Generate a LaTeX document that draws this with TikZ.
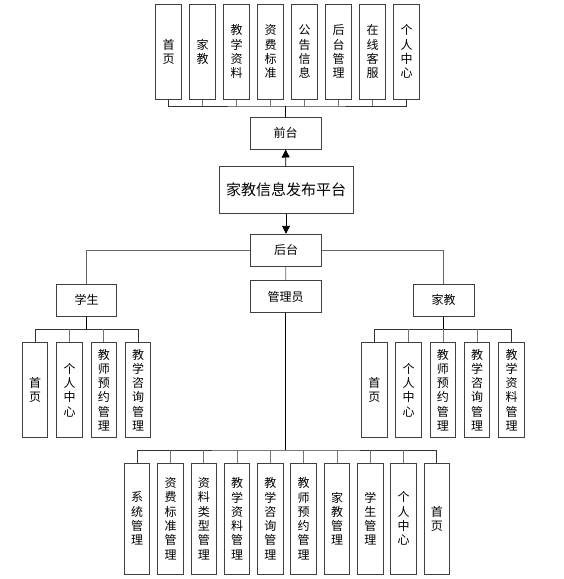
\documentclass[tikz,border=0pt]{standalone}
\usepackage{fontspec}
\setmainfont{Noto Sans CJK SC}
\usetikzlibrary{arrows.meta, positioning}
\tikzset{
    >={Triangle[width=8pt,length=8pt]},
    % Boxes
    box/.style={rectangle, draw=black!75, line width=1pt, fill=white,
                align=center, inner sep=1pt, font=\fontsize{12}{14.3}\selectfont},
    mid/.style={box, minimum width=71pt, minimum height=32pt},
    leaf/.style={box, minimum width=25.5pt, minimum height=95pt},
    tallleaf/.style={leaf, minimum height=110.7pt},
    % Lines
    bus/.style={draw=black!80, line width=1pt},
    drop/.style={draw=black!55, line width=0.7pt},
    stem/.style={draw=black, line width=1.8pt},
    link/.style={draw=black!60, line width=0.8pt},
    arr/.style={draw=black, line width=0.9pt, ->}
}

\begin{document}
\begin{tikzpicture}[x=1pt, y=-1pt]
\useasboundingbox (0,0) rectangle (563,579);

% Centre
\node[box, minimum width=134pt, minimum height=46.5pt, font=\fontsize{15}{18}\selectfont] (plat) at (286,190) {家教信息发布平台};
\node[mid] (qt) at (285.5,133) {前台};
\node[mid] (ht) at (286,250.3) {后台};
\node[mid] (gly) at (285.5,296.7) {管理员};
\node[mid, minimum width=60pt] (xs) at (86.7,300) {学生};
\node[mid, minimum width=61pt] (jj) at (443.7,300) {家教};

\draw[arr] (plat) -- (qt);
\draw[arr] (plat) -- (ht);
\draw[link] (ht) -- (gly);
\draw[link] (ht.west) -| (xs.north);
\draw[link] (ht.east) -| (jj.north);

% Front end
\begin{scope}[node distance=7.5pt]
\node[leaf] (t1) at (168.5,51.7) {首\\页};
\node[leaf, right=of t1] (t2) {家\\教};
\node[leaf, right=of t2] (t3) {教\\学\\资\\料};
\node[leaf, right=of t3] (t4) {资\\费\\标\\准};
\node[leaf, right=of t4] (t5) {公\\告\\信\\息};
\node[leaf, right=of t5] (t6) {后\\台\\管\\理};
\node[leaf, right=of t6] (t7) {在\\线\\客\\服};
\node[leaf, right=of t7] (t8) {个\\人\\中\\心};
\end{scope}
\coordinate (tb) at (286,106);
\draw[bus] (t1.south) |- (tb) -| (t8.south);
\draw[drop] (t2.south) -- (t2.south |- tb) (t3.south) -- (t3.south |- tb)
    (t4.south) -- (t4.south |- tb) (t5.south) -- (t5.south |- tb)
    (t6.south) -- (t6.south |- tb) (t7.south) -- (t7.south |- tb);
\draw[stem] (qt.north) -- (qt.north |- tb);

% Student
\begin{scope}[node distance=7.8pt]
\node[leaf] (s1) at (35.2,390) {首\\页};
\node[leaf, right=of s1] (s2) {个\\人\\中\\心};
\node[leaf, right=of s2] (s3) {教\\师\\预\\约\\管\\理};
\node[leaf, right=of s3] (s4) {教\\学\\咨\\询\\管\\理};
\end{scope}
\coordinate (sb) at (86.7,329.3);
\draw[bus] (s1.north) |- (sb) -| (s4.north);
\draw[drop] (s2.north) -- (s2.north |- sb) (s3.north) -- (s3.north |- sb);
\draw[stem, line width=1.3pt] (xs.south) -- (xs.south |- sb);

% Tutor
\begin{scope}[node distance=7.8pt]
\node[leaf] (j1) at (374.3,390) {首\\页};
\node[leaf, right=of j1] (j2) {个\\人\\中\\心};
\node[leaf, right=of j2] (j3) {教\\师\\预\\约\\管\\理};
\node[leaf, right=of j3] (j4) {教\\学\\咨\\询\\管\\理};
\node[leaf, right=of j4] (j5) {教\\学\\资\\料\\管\\理};
\end{scope}
\coordinate (jb) at (443.7,329.3);
\draw[bus] (j1.north) |- (jb) -| (j5.north);
\draw[drop] (j2.north) -- (j2.north |- jb) (j3.north) -- (j3.north |- jb)
    (j4.north) -- (j4.north |- jb);
\draw[stem, line width=1.3pt] (jj.south) -- (jj.south |- jb);

% Admin
\begin{scope}[node distance=6.8pt]
\node[tallleaf] (a1) at (137.2,518.7) {系\\统\\管\\理};
\node[tallleaf, right=of a1] (a2) {资\\费\\标\\准\\管\\理};
\node[tallleaf, right=of a2] (a3) {资\\料\\类\\型\\管\\理};
\node[tallleaf, right=of a3] (a4) {教\\学\\资\\料\\管\\理};
\node[tallleaf, right=of a4] (a5) {教\\学\\咨\\询\\管\\理};
\node[tallleaf, right=of a5] (a6) {教\\师\\预\\约\\管\\理};
\node[tallleaf, right=of a6] (a7) {家\\教\\管\\理};
\node[tallleaf, right=of a7] (a8) {学\\生\\管\\理};
\node[tallleaf, right=of a8] (a9) {个\\人\\中\\心};
\node[tallleaf, right=of a9] (a10) {首\\页};
\end{scope}
\coordinate (ab) at (285,450);
\draw[bus] (a1.north) |- (ab) -| (a10.north);
\draw[drop] (a2.north) -- (a2.north |- ab) (a3.north) -- (a3.north |- ab)
    (a4.north) -- (a4.north |- ab) (a5.north) -- (a5.north |- ab)
    (a6.north) -- (a6.north |- ab) (a7.north) -- (a7.north |- ab)
    (a8.north) -- (a8.north |- ab) (a9.north) -- (a9.north |- ab);
\draw[stem] (gly.south) -- (gly.south |- ab);

\end{tikzpicture}
\end{document}
